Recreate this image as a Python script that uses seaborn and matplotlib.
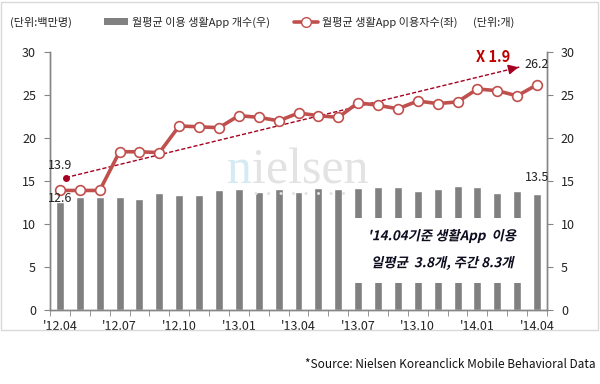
import numpy as np
import matplotlib
matplotlib.use('Agg')
import matplotlib.pyplot as plt
import seaborn as sns
from matplotlib.patches import Rectangle, Patch, PathPatch
from matplotlib.lines import Line2D
from matplotlib.textpath import TextPath
from matplotlib.font_manager import FontProperties
from matplotlib.transforms import Affine2D

# monthly data '12.04 ~ '14.04
months = ["'12.04", "'12.05", "'12.06", "'12.07", "'12.08", "'12.09", "'12.10", "'12.11", "'12.12",
          "'13.01", "'13.02", "'13.03", "'13.04", "'13.05", "'13.06", "'13.07", "'13.08", "'13.09",
          "'13.10", "'13.11", "'13.12", "'14.01", "'14.02", "'14.03", "'14.04"]
users = [13.9, 13.9, 13.9, 18.4, 18.4, 18.3, 21.4, 21.3, 21.2, 22.6, 22.4, 22.0, 22.9,
         22.6, 22.4, 24.1, 23.8, 23.4, 24.3, 24.0, 24.2, 25.7, 25.5, 24.9, 26.2]
app_count = [12.6, 13.1, 13.1, 13.1, 12.9, 13.6, 13.4, 13.4, 13.9, 14.1, 13.7, 14.1, 13.7,
             14.2, 14.1, 14.2, 14.3, 14.3, 13.8, 14.1, 14.4, 14.3, 13.6, 13.8, 13.5]
# trend arrow ends (index, value)
trend_x = [0.3, 23.2]
trend_y = [15.4, 28.3]

bar_label = '월평균 이용 생활App 개수(우)'
line_label = '월평균 생활App 이용자수(좌)'
box_lines = ["'14.04기준 생활App  이용", "일평균  3.8개, 주간 8.3개"]

sns.set_style('white')
plt.rcParams['font.family'] = ['Noto Sans CJK KR', 'DejaVu Sans']

red = '#C0504D'
dark_red = '#A50021'
grey = '#808080'
spine_c = '#868686'
txt_c = '#222222'

fig = plt.figure(figsize=(6, 3.84), dpi=100)
ax = fig.add_axes([50 / 600, 1 - 310 / 384, 497 / 600, 258 / 384])
ax2 = ax.twinx()

x = np.arange(len(months))

sns.barplot(x=months, y=app_count, ax=ax2, color=grey, width=0.4, saturation=1)
sns.lineplot(x=x, y=users, ax=ax, color=red, linewidth=2.6, marker='o', markersize=7,
             markerfacecolor='white', markeredgecolor=red, markeredgewidth=1.2, zorder=5)

ax.set_zorder(ax2.get_zorder() + 1)
ax.patch.set_visible(False)

for a in (ax, ax2):
    a.set_ylim(0, 30)
    a.set_yticks(np.arange(0, 31, 5))
    a.set_xlabel('')
    a.set_ylabel('')
    a.spines['top'].set_visible(False)
    for s in ('left', 'right', 'bottom'):
        a.spines[s].set_color(spine_c)
        a.spines[s].set_linewidth(1)
    a.tick_params(axis='y', length=4, color=spine_c, labelsize=9, pad=6, labelcolor=txt_c)
ax2.tick_params(axis='y', right=True, left=False)
ax.tick_params(axis='y', left=True)

ax.set_xlim(-0.5, len(months) - 0.5)
ax.set_xticks(x[::3])
ax.set_xticklabels(months[::3])
ax.set_xticks(np.arange(-0.5, len(months), 1), minor=True)
ax.tick_params(axis='x', which='major', length=0, labelsize=9, pad=7, labelcolor=txt_c)
ax.tick_params(axis='x', which='minor', length=4, color=spine_c, bottom=True)

# trend arrow
ax.plot(trend_x, trend_y, linestyle=(0, (3, 1.5)), color=dark_red, linewidth=1, zorder=4)
ax.plot(trend_x[0], trend_y[0], 'o', color=dark_red, markersize=4, zorder=4)
ax.annotate('', xy=(trend_x[1], trend_y[1]), xytext=(trend_x[1] - 0.6, trend_y[1] - 0.32),
            arrowprops=dict(arrowstyle='-|>,head_length=0.6,head_width=0.3', color=dark_red, lw=1),
            zorder=4)
ax.text(21.8, 29.4, 'X 1.9', color='#C00000', fontsize=10.5, fontweight='bold', ha='center', va='center')

# value labels
ax.text(x[0], 16.8, f'{users[0]:.1f}', fontsize=9, ha='center', va='center', color=txt_c)
ax.text(x[0], 13.0, f'{app_count[0]:.1f}', fontsize=9, ha='center', va='center', color=txt_c, zorder=6)
ax.text(x[-1], 28.6, f'{users[-1]:.1f}', fontsize=9, ha='center', va='center', color=txt_c)
ax.text(x[-1], 15.4, f'{app_count[-1]:.1f}', fontsize=9, ha='center', va='center', color=txt_c)

# watermark
ax.text(0.406, 0.492, 'n', transform=ax.transAxes, fontsize=36, family='Liberation Serif',
        color='#D5EAF3', ha='right', va='baseline', zorder=0)
ax.text(0.406, 0.492, 'ielsen', transform=ax.transAxes, fontsize=36, family='Liberation Serif',
        color='#E3E3E3', ha='left', va='baseline', zorder=0)
ax.text(0.503, 0.453, '•   •   •   •   •   •   •   •', transform=ax.transAxes, fontsize=9,
        color='#E2E2E2', ha='center', va='center', zorder=0)

# white info box covering bars
ax.add_patch(Rectangle((0.608, 0.105), 0.366, 0.252, transform=ax.transAxes,
                       facecolor='white', edgecolor='none', zorder=6))
fp = FontProperties(family='Noto Sans CJK KR', weight='bold', size=9.6)
for line, cy in zip(box_lines, (236, 263)):
    tp = TextPath((0, 0), line, prop=fp)
    ext = tp.get_extents()
    cx_in = 443 / 100
    cy_in = (384 - cy) / 100
    tr = (Affine2D().translate(-(ext.x0 + ext.x1) / 2, -(ext.y0 + ext.y1) / 2)
          .skew_deg(12, 0).scale(1 / 72).translate(cx_in, cy_in) + fig.dpi_scale_trans)
    fig.patches.append(PathPatch(tp, transform=tr, facecolor='#0d0d1f', edgecolor='none', zorder=10))

# header
fig.text(10 / 600, 1 - 22 / 384, '(단위:백만명)', fontsize=8, va='center', ha='left', color=txt_c)
fig.text(473 / 600, 1 - 22 / 384, '(단위:개)', fontsize=8, va='center', ha='left', color=txt_c)
handles = [Patch(facecolor=grey, edgecolor='none', label=bar_label),
           Line2D([0], [0], color=red, linewidth=2.6, marker='o', markersize=7,
                  markerfacecolor='white', markeredgecolor=red, label=line_label)]
fig.legend(handles=handles, loc='center', bbox_to_anchor=(281 / 600, 1 - 22 / 384), ncol=2,
           frameon=False, fontsize=8, handlelength=2.1, handleheight=0.6, columnspacing=2.2,
           handletextpad=0.4, borderaxespad=0)

# outer frame and source
fig.patches.append(Rectangle((1 / 600, 1 - 330 / 384), 597 / 600, 328 / 384, transform=fig.transFigure,
                             facecolor='none', edgecolor='#D9D9D9', linewidth=1))
fig.text(596 / 600, 1 - 365 / 384, '*Source: Nielsen Koreanclick Mobile Behavioral Data',
         fontsize=8.5, ha='right', va='center', color='#111111')

fig.savefig('out.png', dpi=100)
